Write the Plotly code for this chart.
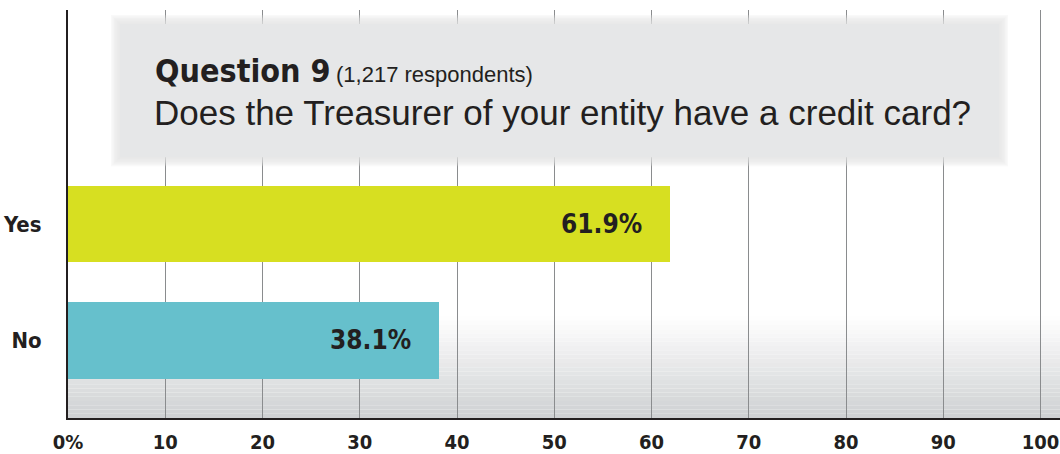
import plotly.graph_objects as go

categories = ["No", "Yes"]
values = [38.1, 61.9]
bar_colors = ["#66c0cc", "#d7df21"]
value_labels = ["38.1%", "61.9%"]
tick_vals = [0, 10, 20, 30, 40, 50, 60, 70, 80, 90, 100]
tick_text = ["0%", "10", "20", "30", "40", "50", "60", "70", "80", "90", "100"]
title_main = "Question 9"
title_sub = "(1,217 respondents)"
question = "Does the Treasurer of your entity have a credit card?"

COND = "DejaVu Sans Condensed, DejaVu Sans, sans-serif"
REG = "Liberation Sans, Arial, Helvetica, sans-serif"
INK = "#231f20"

W, H = 1060, 454
ML, MR, MT, MB = 68, 0, 10, 34
PW = W - ML - MR
PH = H - MT - MB


def px_x(p):
    return (p - ML) / PW


def px_y(p):
    return (H - MB - p) / PH


def cfont(size):
    return dict(family=COND, size=size, color=INK, weight="bold")


fig = go.Figure()
fig.add_trace(go.Bar(
    y=categories, x=values, orientation="h",
    marker=dict(color=bar_colors, line=dict(width=0)),
    width=0.66, hoverinfo="skip",
))

shapes = []
# bottom gradient of plot background
n = 24
top_px, bot_px = 318, 420
c0, c1 = (255, 255, 255), (206, 208, 210)
for i in range(n):
    y0p = top_px + (bot_px - top_px) * i / n
    y1p = top_px + (bot_px - top_px) * (i + 1) / n
    t = (i + 0.5) / n
    col = tuple(round(c0[k] + (c1[k] - c0[k]) * t) for k in range(3))
    shapes.append(dict(type="rect", xref="paper", yref="paper",
                       x0=0, x1=1, y0=px_y(y1p), y1=px_y(y0p),
                       fillcolor="rgb(%d,%d,%d)" % col, line=dict(width=0),
                       layer="below"))

# title box with soft edge
bx0, bx1, by0, by1 = 120, 999, 24, 158
for i in range(6, 0, -1):
    e = i * 1.5
    shapes.append(dict(type="rect", xref="paper", yref="paper",
                       x0=px_x(bx0 - e), x1=px_x(bx1 + e),
                       y0=px_y(by1 + e), y1=px_y(by0 - e),
                       fillcolor="rgba(226,227,229,0.22)", line=dict(width=0),
                       layer="above"))
shapes.append(dict(type="rect", xref="paper", yref="paper",
                   x0=px_x(bx0), x1=px_x(bx1), y0=px_y(by1), y1=px_y(by0),
                   fillcolor="#e6e7e8", line=dict(width=0), layer="above"))

annotations = []
for c, v, lab in zip(categories, values, value_labels):
    annotations.append(dict(x=v, y=c, xref="x", yref="y", text=lab,
                            showarrow=False, xanchor="right", xshift=-26,
                            font=cfont(26)))

annotations.append(dict(xref="paper", yref="paper", x=px_x(153), y=px_y(71),
                        xanchor="left", yanchor="middle", showarrow=False,
                        text=title_main, font=cfont(32)))
annotations.append(dict(xref="paper", yref="paper", x=px_x(334), y=px_y(75),
                        xanchor="left", yanchor="middle", showarrow=False,
                        text=title_sub,
                        font=dict(family=REG, size=22, color=INK)))
annotations.append(dict(xref="paper", yref="paper", x=px_x(152), y=px_y(113),
                        xanchor="left", yanchor="middle", showarrow=False,
                        text=question,
                        font=dict(family=REG, size=35, color=INK)))

fig.update_layout(
    width=W, height=H,
    margin=dict(l=ML, r=MR, t=MT, b=MB, pad=0),
    paper_bgcolor="white", plot_bgcolor="white",
    showlegend=False, bargap=0,
    shapes=shapes, annotations=annotations,
    xaxis=dict(range=[0, 102], tickvals=tick_vals, ticktext=tick_text,
               showgrid=True, gridcolor="#8a8c8e", gridwidth=1,
               showline=True, linecolor=INK, linewidth=2,
               zeroline=False, ticks="", ticklabelstandoff=5,
               tickfont=cfont(20), fixedrange=True),
    yaxis=dict(type="category", categoryorder="array", categoryarray=categories,
               range=[-0.667, 2.838], showgrid=False,
               showline=True, linecolor=INK, linewidth=2,
               zeroline=False, ticks="", ticklabelstandoff=20,
               tickfont=cfont(22), fixedrange=True),
)

fig.write_html("out.html", config={"displayModeBar": False, "staticPlot": True},
               post_script="document.body.style.margin='0';document.body.style.padding='0';")
